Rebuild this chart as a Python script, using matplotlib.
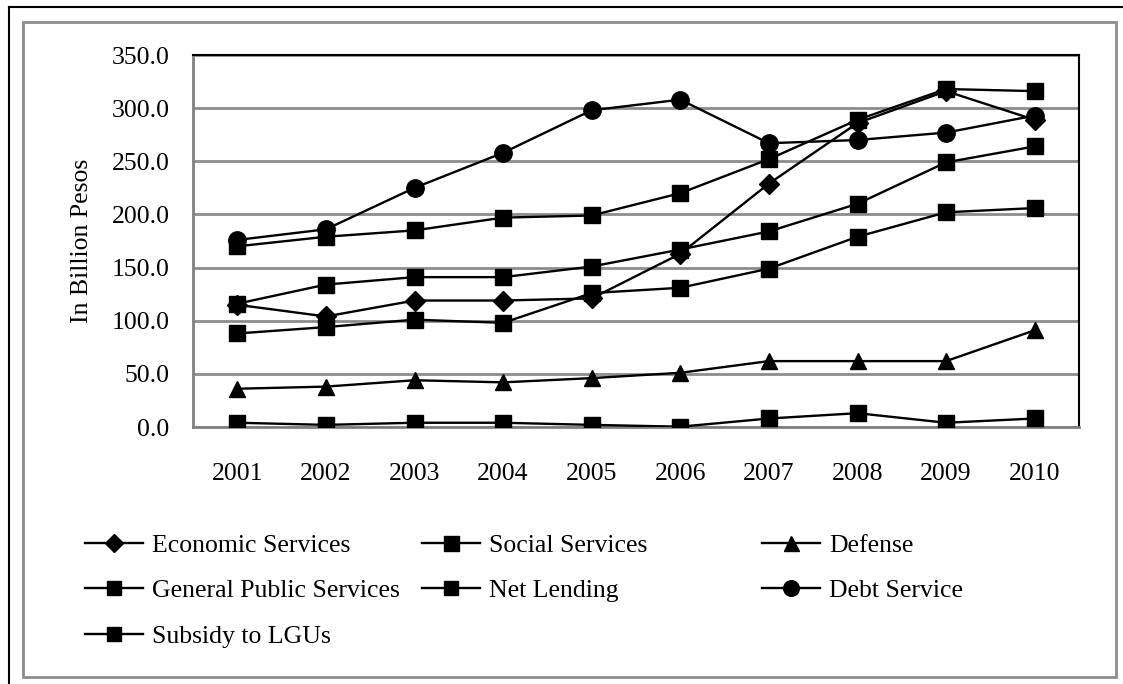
import matplotlib.pyplot as plt
from matplotlib.patches import Rectangle
from matplotlib.lines import Line2D

plt.rcParams['font.family'] = ['Liberation Serif', 'DejaVu Serif']

years = ["2001", "2002", "2003", "2004", "2005", "2006", "2007", "2008", "2009", "2010"]

economic_services = [115, 104, 119, 119, 121, 163, 229, 286, 316, 289]
social_services = [170, 179, 185, 197, 199, 220, 252, 289, 318, 316]
defense = [36, 38, 44, 42, 46, 51, 62, 62, 62, 91]
general_public_services = [88, 94, 101, 98, 126, 131, 149, 179, 202, 206]
net_lending = [4, 2, 4, 4, 2, 0.3, 8, 13, 4, 8]
debt_service = [176, 186, 225, 258, 298, 308, 267, 270, 277, 293]
subsidy_to_lgus = [116, 134, 141, 141, 151, 167, 184, 210, 249, 264]

series = [
    ("Economic Services", economic_services, "D", 10),
    ("Social Services", social_services, "s", 12),
    ("Defense", defense, "^", 12),
    ("General Public Services", general_public_services, "s", 11),
    ("Net Lending", net_lending, "s", 11),
    ("Debt Service", debt_service, "o", 12.5),
    ("Subsidy to LGUs", subsidy_to_lgus, "s", 11),
]

fig = plt.figure(figsize=(11.23, 6.84), dpi=100)

# frames around the chart
fig.add_artist(Line2D([9 / 1123, 9 / 1123], [0, 1 - 7 / 684], color="black", lw=1.5))
fig.add_artist(Line2D([9 / 1123, 1], [1 - 7 / 684, 1 - 7 / 684], color="black", lw=1.5))
fig.add_artist(Rectangle((23 / 1123, 1 - 677 / 684), (1116 - 23) / 1123, (677 - 22) / 684,
                         fill=False, edgecolor="#8c8c8c", lw=2))

ax = fig.add_axes([193 / 1123, 1 - 427 / 684, (1079 - 193) / 1123, (427 - 55) / 684])

x = list(range(len(years)))
handles = {}
for name, vals, mk, ms in series:
    ln, = ax.plot(x, vals, color="black", lw=1.7, marker=mk, markersize=ms,
                  markerfacecolor="black", markeredgecolor="black", label=name, zorder=3)
    handles[name] = ln

ax.set_xlim(-0.5, len(years) - 0.5)
ax.set_ylim(0, 350)
ax.set_yticks(range(0, 351, 50))
ax.set_yticklabels([f"{v:.1f}" for v in range(0, 351, 50)])
ax.set_xticks(x)
ax.set_xticklabels(years)
ax.tick_params(axis="both", length=0, labelsize=18.5)
ax.tick_params(axis="y", pad=17)
ax.tick_params(axis="x", pad=26)
ax.yaxis.grid(True, color="#8c8c8c", lw=2)
ax.set_axisbelow(True)

for side in ("top", "right"):
    ax.spines[side].set_color("black")
    ax.spines[side].set_linewidth(1.5)
for side in ("left", "bottom"):
    ax.spines[side].set_color("#808080")
    ax.spines[side].set_linewidth(2)

fig.text(82 / 1123, 1 - 241 / 684, "In Billion Pesos", rotation=90,
         ha="center", va="center", fontsize=18.5)

# legend in three columns
columns = [
    (85, ["Economic Services", "General Public Services", "Subsidy to LGUs"]),
    (422, ["Social Services", "Net Lending"]),
    (762, ["Defense", "Debt Service"]),
]
for xpos, names in columns:
    leg = fig.legend([handles[n] for n in names], names, loc="upper left",
                     bbox_to_anchor=(xpos / 1123, 1 - 534 / 684), frameon=False,
                     fontsize=18.5, borderpad=0, borderaxespad=0, handlelength=2.25,
                     handletextpad=0.35, labelspacing=0.87, markerscale=0.9)

fig.savefig("out.png", dpi=100)
